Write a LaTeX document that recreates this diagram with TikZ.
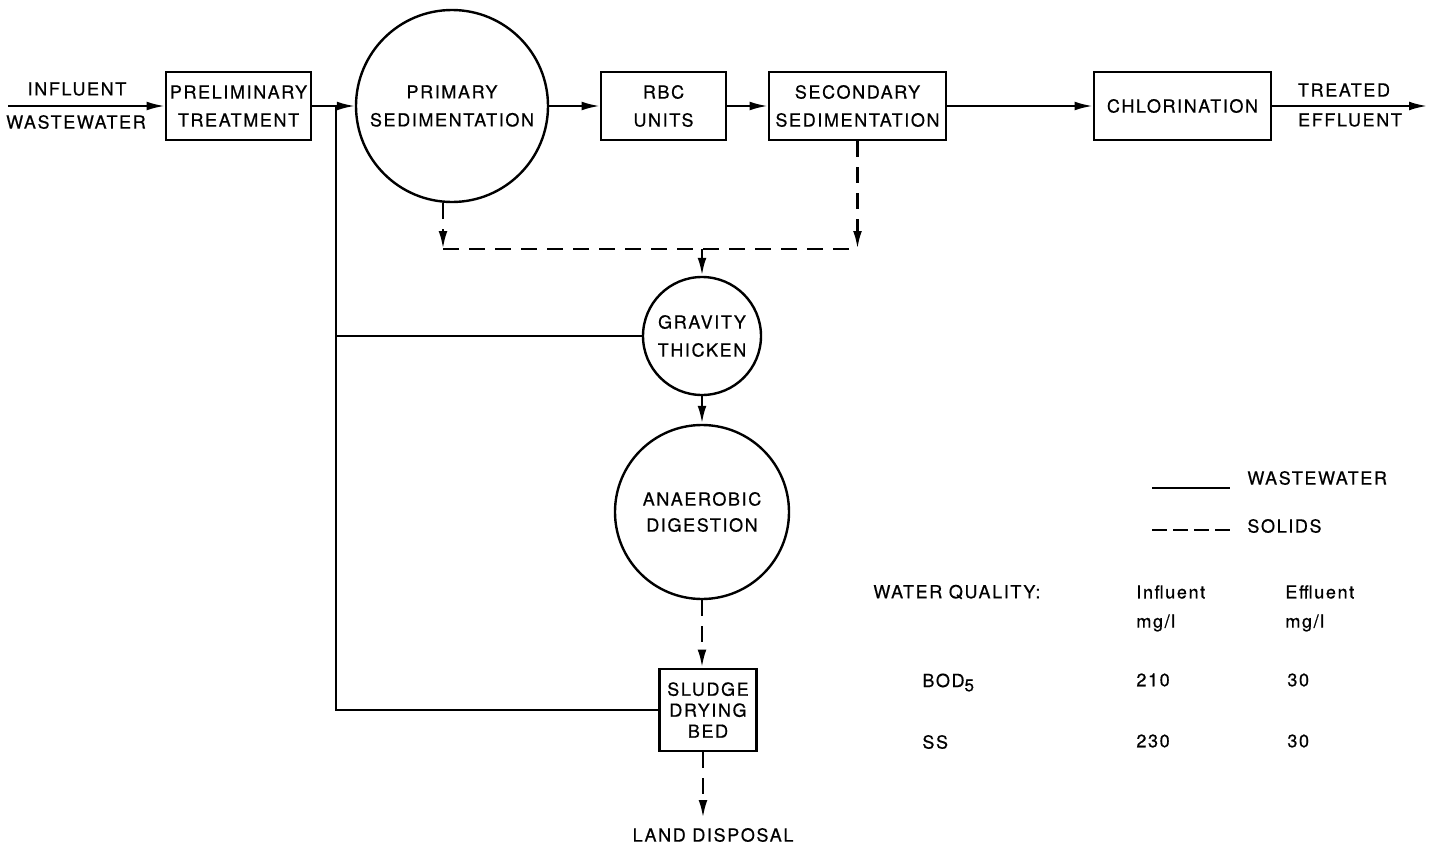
\documentclass[tikz,border=0pt]{standalone}
\usepackage{fontspec}
\setmainfont{TeX Gyre Heros}[LetterSpace=9, FakeBold=0.6]
\usetikzlibrary{arrows.meta}
\tikzset{
  lbl/.style={inner sep=0pt, font=\fontsize{9}{14}\selectfont, align=center},
  boxnode/.style={draw, line width=1.4pt, inner sep=0pt, font=\fontsize{9}{14}\selectfont, align=center},
  circnode/.style={draw, circle, line width=1.2pt, inner sep=0pt, font=\fontsize{9}{14}\selectfont, align=center},
  ww/.style={line width=1pt},
  wwarrow/.style={line width=1pt, -{Latex[length=9pt,width=4.4pt]}},
  sol/.style={line width=1.3pt, dash pattern=on 8pt off 5pt},
  solarrow/.style={line width=1.3pt, dash pattern=on 8pt off 5pt, -{Latex[length=9pt,width=4.4pt]}},
}
\begin{document}
\begin{tikzpicture}[x=0.5pt,y=-0.5pt]
\useasboundingbox (0,0) rectangle (1431,846);
% process units
\node[boxnode, minimum width=72.5pt, minimum height=34pt] (prelim) at (238.5,106) {PRELIMINARY\\TREATMENT};
\node[circnode, minimum size=96pt] (primary) at (452,106) {PRIMARY\\SEDIMENTATION};
\node[boxnode, minimum width=62.5pt, minimum height=34pt] (rbc) at (663.5,106) {RBC\\UNITS};
\node[boxnode, minimum width=88.5pt, minimum height=34pt] (sec) at (857.5,106) {SECONDARY\\SEDIMENTATION};
\node[boxnode, minimum width=88.5pt, minimum height=34pt] (chl) at (1182.5,106) {CHLORINATION};
\node[circnode, minimum size=59pt] (grav) at (702,336) {GRAVITY\\THICKEN};
\node[circnode, minimum size=87pt, font=\fontsize{9}{13}\selectfont] (anaer) at (702,512) {ANAEROBIC\\DIGESTION};
\node[boxnode, minimum width=48.5pt, minimum height=41pt, font=\fontsize{9}{10.5}\selectfont] (sludge) at (708,710) {SLUDGE\\DRYING\\BED};
% labels
\node[lbl] (inf1) at (77,89) {INFLUENT};
\node[lbl] (inf2) at (76,122) {WASTEWATER};
\node[lbl] (eff1) at (1344,90) {TREATED};
\node[lbl] (eff2) at (1350,120) {EFFLUENT};
\node[lbl] (land) at (713,835) {LAND DISPOSAL};
% coordinates
\coordinate (start) at (8,106);
\coordinate (finish) at (1427,106);
\coordinate (jtop) at (336,106);
\coordinate (jmid) at (336,336);
\coordinate (jbot) at (336,710);
\coordinate (dl) at (443,249);
\coordinate (dm) at (702,249);
\coordinate (dr) at (857.5,249);
\coordinate (landtip) at (703,818);
% wastewater flow
\draw[wwarrow] (start) -- (prelim.west);
\draw[wwarrow] (prelim.east) -- (primary.west);
\draw[wwarrow] (primary.east) -- (rbc.west);
\draw[wwarrow] (rbc.east) -- (sec.west);
\draw[wwarrow] (sec.east) -- (chl.west);
\draw[wwarrow] (chl.east) -- (finish);
\draw[ww] (jtop) -- (jbot) -- (sludge.west |- jbot);
\draw[ww] (jmid) -- (grav.west);
% solids flow
\draw[solarrow] (primary.south -| dl) -- (dl);
\draw[solarrow] (sec.south) -- (dr);
\draw[sol] (dl) -- (dr);
\draw[solarrow] (dm) -- (grav.north);
\draw[solarrow] (grav.south) -- (anaer.north);
\draw[solarrow] (anaer.south) -- (sludge.north -| anaer.south);
\draw[solarrow] (sludge.south -| landtip) -- (landtip);
% legend
\coordinate (lga) at (1152,488);
\coordinate (lgb) at (1230,488);
\coordinate (lgc) at (1152,530);
\coordinate (lgd) at (1230,530);
\draw[ww] (lga) -- (lgb);
\draw[line width=1pt, dash pattern=on 7.5pt off 3pt] (lgc) -- (lgd);
\node[lbl, anchor=west] (lgww) at (1247,478) {WASTEWATER};
\node[lbl, anchor=west] (lgsol) at (1247,526) {SOLIDS};
% water quality table
\node[lbl, anchor=west] (wq) at (873,592) {WATER QUALITY:};
\node[lbl, anchor=west] (hin) at (1136,592) {Influent};
\node[lbl, anchor=west] (hinu) at (1136,623) {mg/l};
\node[lbl, anchor=west] (hef) at (1285,592) {Effluent};
\node[lbl, anchor=west] (hefu) at (1285,623) {mg/l};
\node[lbl, anchor=base west] (bod) at (922,687) {BOD\raisebox{-0.45ex}{\fontsize{8.5}{8.5}\selectfont 5}};
\node[lbl, anchor=west] (ss) at (922,742) {SS};
\node[lbl, anchor=west] (b1) at (1136,680) {210};
\node[lbl, anchor=west] (b2) at (1287,680) {30};
\node[lbl, anchor=west] (s1) at (1136,741) {230};
\node[lbl, anchor=west] (s2) at (1287,741) {30};
\end{tikzpicture}
\end{document}
